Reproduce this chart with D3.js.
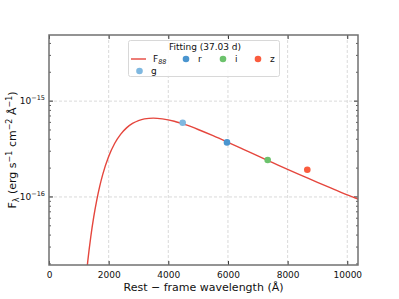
<!DOCTYPE html>
<html>
<head>
<meta charset="utf-8">
<script src="https://cdn.jsdelivr.net/npm/d3@7"></script>
<style>
  body { margin: 0; background: #fff; }
  text { font-family: "DejaVu Sans", sans-serif; fill: #111; }
</style>
</head>
<body>
<div id="chart"></div>
<script>
// fitted curve
const curveWave = [1200, 1300, 1400, 1500, 1600, 1700, 1800, 2000, 2200, 2400, 2600, 2800, 3000, 3200, 3500,
  3800, 4200, 4600, 5000, 5500, 6000, 6500, 7000, 7500, 8000, 8500, 9000, 9500, 10000, 10400];
const curveFlux = [1.05e-17, 2.14e-17, 3.82e-17, 6.19e-17, 9.23e-17, 1.29e-16, 1.71e-16, 2.64e-16, 3.61e-16, 4.50e-16,
  5.26e-16, 5.85e-16, 6.27e-16, 6.53e-16, 6.65e-16, 6.53e-16, 6.17e-16, 5.64e-16, 5.06e-16, 4.36e-16, 3.72e-16,
  3.16e-16, 2.68e-16, 2.28e-16, 1.94e-16, 1.66e-16, 1.42e-16, 1.22e-16, 1.05e-16, 9.40e-17];

// photometry
const bands = ["g", "r", "i", "z"];
const bandWave = [4482, 5967, 7332, 8660];
const bandFlux = [5.94e-16, 3.71e-16, 2.43e-16, 1.92e-16];
const bandColor = ["#7fb8e0", "#4a95cf", "#6cc26c", "#fa5c3e"];

const xTicks = [0, 2000, 4000, 6000, 8000, 10000];
const yMajor = [1e-16, 1e-15];
const legendTitle = "Fitting (37.03 d)";

const width = 399, height = 299;
const margin = { top: 35, right: 41, bottom: 34, left: 49 };
const lineColor = "#e5463d";
const spine = "#707070";

const x = d3.scaleLinear().domain([0, 10360]).range([margin.left, width - margin.right]);
const y = d3.scaleLog().domain([Math.pow(10, -16.71), Math.pow(10, -14.31)]).range([height - margin.bottom, margin.top]);

const svg = d3.select("#chart").append("svg")
  .attr("width", width)
  .attr("height", height);

svg.append("clipPath").attr("id", "clip")
  .append("rect")
  .attr("x", margin.left).attr("y", margin.top)
  .attr("width", width - margin.left - margin.right)
  .attr("height", height - margin.top - margin.bottom);

// grid
const grid = svg.append("g").attr("stroke", "#d0d0d0").attr("stroke-dasharray", "3,2").attr("stroke-width", 0.8);
grid.selectAll(".gx").data(xTicks.slice(1)).join("line")
  .attr("x1", d => x(d)).attr("x2", d => x(d))
  .attr("y1", margin.top).attr("y2", height - margin.bottom);
grid.selectAll(".gy").data(yMajor).join("line")
  .attr("y1", d => y(d)).attr("y2", d => y(d))
  .attr("x1", margin.left).attr("x2", width - margin.right);

// minor log ticks
const yMinor = [];
[-17, -16, -15].forEach(e => {
  for (let m = 2; m <= 9; m++) {
    const v = m * Math.pow(10, e);
    if (v > y.domain()[0] && v < y.domain()[1]) yMinor.push(v);
  }
});

// axes with inward ticks
svg.append("g")
  .attr("transform", `translate(0,${height - margin.bottom})`)
  .call(d3.axisBottom(x).tickValues(xTicks).tickSizeInner(-4).tickSizeOuter(0).tickPadding(7).tickFormat(d3.format("d")))
  .call(g => g.select(".domain").remove())
  .call(g => g.selectAll("line").attr("stroke", "#333"))
  .call(g => g.selectAll("text").attr("font-size", 9).attr("font-family", "DejaVu Sans"));

svg.append("g")
  .attr("transform", `translate(0,${margin.top})`)
  .call(d3.axisTop(x).tickValues(xTicks).tickSizeInner(-4).tickSizeOuter(0).tickFormat(""))
  .call(g => g.select(".domain").remove())
  .call(g => g.selectAll("line").attr("stroke", "#333"));

[[margin.left, 1], [width - margin.right, -1]].forEach(([px, dir]) => {
  const g = svg.append("g");
  g.selectAll(".maj").data(yMajor).join("line")
    .attr("x1", px).attr("x2", px + dir * 4)
    .attr("y1", d => y(d)).attr("y2", d => y(d))
    .attr("stroke", "#333");
  g.selectAll(".min").data(yMinor).join("line")
    .attr("x1", px).attr("x2", px + dir * 2)
    .attr("y1", d => y(d)).attr("y2", d => y(d))
    .attr("stroke", "#333").attr("stroke-width", 0.8);
});

// y tick labels 10^n
const yl = svg.append("g").attr("font-size", 9);
yMajor.forEach(v => {
  const t = yl.append("text")
    .attr("x", margin.left - 4)
    .attr("y", y(v) + 3)
    .attr("text-anchor", "end");
  t.append("tspan").text("10");
  t.append("tspan").attr("dy", -4).attr("font-size", 6.5).text("\u2212" + Math.round(-Math.log10(v)));
});

// curve
const pts = curveWave.map((w, i) => [w, curveFlux[i]]);
svg.append("path")
  .datum(pts)
  .attr("clip-path", "url(#clip)")
  .attr("fill", "none")
  .attr("stroke", lineColor)
  .attr("stroke-width", 1.4)
  .attr("d", d3.line().x(d => x(d[0])).y(d => y(d[1])).curve(d3.curveMonotoneX));

// photometry points
svg.append("g").selectAll("circle").data(bands).join("circle")
  .attr("cx", (d, i) => x(bandWave[i]))
  .attr("cy", (d, i) => y(bandFlux[i]))
  .attr("r", 3.3)
  .attr("fill", (d, i) => bandColor[i]);

// frame
svg.append("rect")
  .attr("x", margin.left).attr("y", margin.top)
  .attr("width", width - margin.left - margin.right)
  .attr("height", height - margin.top - margin.bottom)
  .attr("fill", "none")
  .attr("stroke", spine)
  .attr("stroke-width", 1.5);

// axis labels
svg.append("text")
  .attr("x", (margin.left + width - margin.right) / 2)
  .attr("y", 291)
  .attr("text-anchor", "middle")
  .attr("font-size", 11)
  .text("Rest \u2212 frame wavelength (\u00c5)");

const ylab = svg.append("text")
  .attr("transform", `translate(16,${(margin.top + height - margin.bottom) / 2}) rotate(-90)`)
  .attr("text-anchor", "middle")
  .attr("font-size", 11);
ylab.append("tspan").text("F");
ylab.append("tspan").attr("dy", 3).attr("font-size", 8).text("\u03bb");
ylab.append("tspan").attr("dy", -3).text(" (erg s");
ylab.append("tspan").attr("dy", -4).attr("font-size", 8).text("\u22121");
ylab.append("tspan").attr("dy", 4).text(" cm");
ylab.append("tspan").attr("dy", -4).attr("font-size", 8).text("\u22122");
ylab.append("tspan").attr("dy", 4).text(" \u00c5");
ylab.append("tspan").attr("dy", -4).attr("font-size", 8).text("\u22121");
ylab.append("tspan").attr("dy", 4).text(")");

// legend
const leg = svg.append("g").attr("font-size", 9);
leg.append("rect")
  .attr("x", 128.5).attr("y", 40.5).attr("width", 151).attr("height", 36)
  .attr("rx", 2)
  .attr("fill", "#fff").attr("fill-opacity", 0.85)
  .attr("stroke", "#d8d8d8");
leg.append("text").attr("x", 205).attr("y", 50).attr("text-anchor", "middle").text(legendTitle);

leg.append("line").attr("x1", 131).attr("x2", 146).attr("y1", 59).attr("y2", 59)
  .attr("stroke", lineColor).attr("stroke-width", 1.4);
const ft = leg.append("text").attr("x", 153).attr("y", 62);
ft.append("tspan").text("F");
ft.append("tspan").attr("dy", 2).attr("font-size", 6.5).attr("font-style", "italic").text("88");

const legPos = [[139.5, 71, 151], [186, 59, 198], [223, 59, 235], [258, 59, 270]];
bands.forEach((b, i) => {
  const [cx, cy, tx] = legPos[i];
  leg.append("circle").attr("cx", cx).attr("cy", cy).attr("r", 3.3).attr("fill", bandColor[i]);
  leg.append("text").attr("x", tx).attr("y", cy + 3).text(b);
});
</script>
</body>
</html>
